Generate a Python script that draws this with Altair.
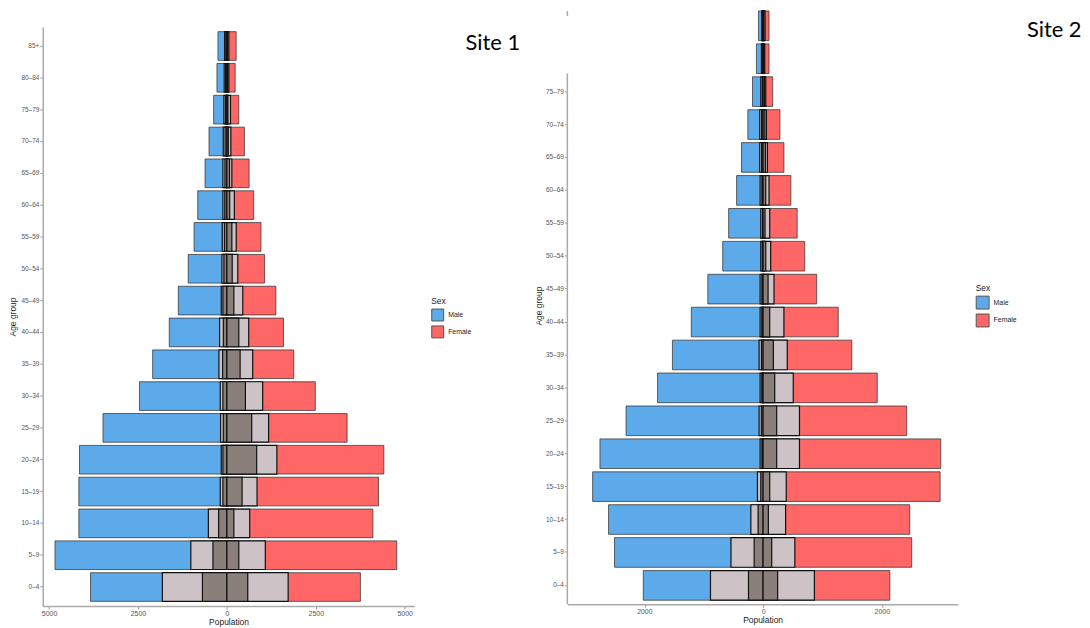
import altair as alt
import pandas as pd

ages = ["0–4", "5–9", "10–14", "15–19", "20–24", "25–29", "30–34", "35–39", "40–44",
        "45–49", "50–54", "55–59", "60–64", "65–69", "70–74", "75–79", "80–84", "85+"]

# Site 1
s1_male_total = [3835, 4832, 4162, 4162, 4143, 3482, 2458, 2086, 1620, 1366, 1087, 922, 819, 614, 502, 372, 279, 251]
s1_female_total = [3754, 4777, 4106, 4264, 4413, 3380, 2486, 1881, 1592, 1378, 1061, 959, 754, 624, 493, 335, 233, 261]
s1_male_light = [1813, 1014, 520, 186, 158, 177, 186, 223, 205, 158, 140, 130, 112, 112, 102, 84, 75, 65]
s1_male_dark = [687, 391, 232, 112, 112, 100, 112, 120, 100, 112, 84, 70, 60, 55, 50, 40, 35, 30]
s1_female_light = [1723, 1081, 642, 848, 1406, 1173, 1006, 726, 614, 447, 307, 262, 210, 140, 112, 102, 56, 56]
s1_female_dark = [587, 335, 196, 428, 838, 698, 521, 372, 335, 196, 150, 140, 80, 75, 40, 30, 25, 25]

# Site 2
s2_male_total = [2018, 2503, 2603, 2871, 2748, 2308, 1778, 1527, 1209, 931, 680, 580, 446, 363, 257, 178, 112, 78]
s2_female_total = [2135, 2503, 2470, 2982, 2993, 2419, 1923, 1494, 1266, 903, 702, 574, 468, 351, 284, 162, 100, 100]
s2_male_light = [886, 541, 206, 95, 50, 67, 50, 67, 50, 50, 39, 39, 50, 56, 56, 39, 28, 22]
s2_male_dark = [246, 150, 84, 39, 20, 30, 22, 28, 22, 20, 15, 11, 20, 25, 25, 15, 12, 10]
s2_female_light = [864, 535, 379, 390, 613, 613, 508, 407, 351, 184, 128, 112, 100, 73, 56, 45, 28, 33]
s2_female_dark = [245, 145, 89, 112, 229, 229, 196, 173, 112, 84, 45, 33, 45, 40, 30, 25, 15, 15]

BLUE = "#5DAAEB"
RED = "#FF6666"
LIGHT = "#CDC3C6"
DARK = "#8B7F7C"
FONT = "Liberation Sans"


def build_df(mt, ft, ml, md, fl, fd):
    rows = []
    for i, a in enumerate(ages):
        rows.append(dict(age=a, sex="Male", layer="total", value=-mt[i]))
        rows.append(dict(age=a, sex="Female", layer="total", value=ft[i]))
        rows.append(dict(age=a, sex="Male", layer="light", value=-ml[i]))
        rows.append(dict(age=a, sex="Female", layer="light", value=fl[i]))
        rows.append(dict(age=a, sex="Male", layer="dark", value=-md[i]))
        rows.append(dict(age=a, sex="Female", layer="dark", value=fd[i]))
    return pd.DataFrame(rows)


def site_chart(df, width, height, xdomain, xticks, yrange, legend_xy, sym, hide, label, label_xy, title_pad, own_domain):
    hide_test = " || ".join([f"datum.value == '{h}'" for h in hide]) if hide else "false"
    y_axis = alt.Axis(
        title="Age group", titleFontSize=8.5, titleColor="#222", titlePadding=title_pad,
        labelFontSize=6.5, labelColor="#555", labelPadding=1,
        labelExpr=f"({hide_test}) ? '' : datum.value",
        tickSize=3, tickColor="#999",
        tickOpacity={"condition": {"test": hide_test, "value": 0}, "value": 1},
        domain=not own_domain, domainColor="#aaa", domainWidth=1.5,
    )
    y_enc = alt.Y("age:N", scale=alt.Scale(domain=ages[::-1], range=yrange,
                                           paddingInner=0.1, paddingOuter=0.15), axis=y_axis)
    x_enc = alt.X("value:Q", stack=None,
                  scale=alt.Scale(domain=xdomain, nice=False, zero=False),
                  axis=alt.Axis(title="Population", titleFontSize=8.5, titleColor="#222", titlePadding=1,
                                values=xticks, labelExpr="format(abs(datum.value), 'd')",
                                labelFontSize=7, labelColor="#555", labelPadding=0,
                                tickSize=3, tickColor="#999", grid=False,
                                domainColor="#aaa", domainWidth=1.5))
    base = alt.Chart(df)
    tot = base.transform_filter("datum.layer == 'total'").mark_bar(
        stroke="#333", strokeOpacity=0.75, strokeWidth=1
    ).encode(
        x=x_enc, y=y_enc,
        color=alt.Color("sex:N", scale=alt.Scale(domain=["Male", "Female"], range=[BLUE, RED]),
                        legend=alt.Legend(title="Sex", orient="none", legendX=legend_xy[0], legendY=legend_xy[1],
                                          symbolType="square", symbolSize=sym * sym,
                                          symbolStrokeColor="#555", symbolStrokeWidth=1,
                                          rowPadding=0, labelFontSize=7, labelColor="#222",
                                          titleFontSize=8.5, titleColor="#222", titleFontWeight="normal",
                                          labelOffset=4, titlePadding=3))
    )
    light = base.transform_filter("datum.layer == 'light'").mark_bar(
        color=LIGHT, stroke="#111", strokeWidth=1.2
    ).encode(x=x_enc, y=y_enc)
    dark = base.transform_filter("datum.layer == 'dark'").mark_bar(
        color=DARK, stroke="#111", strokeWidth=1.2
    ).encode(x=x_enc, y=y_enc)
    txt = alt.Chart(pd.DataFrame({"t": [label]})).mark_text(
        font="Lato", fontSize=22, color="black", align="center", baseline="middle"
    ).encode(text="t:N", x=alt.value(label_xy[0]), y=alt.value(label_xy[1]))
    layers = [tot, light, dark, txt]
    if own_domain:
        one = pd.DataFrame({"a": [0]})
        r1 = alt.Chart(one).mark_rule(color="#aaa", strokeWidth=1.5).encode(
            x=alt.value(0), y=alt.value(own_domain[0]), y2=alt.value(own_domain[1]))
        r2 = alt.Chart(one).mark_rule(color="#aaa", strokeWidth=1.5).encode(
            x=alt.value(0), y=alt.value(own_domain[2]), y2=alt.value(own_domain[3]))
        layers += [r1, r2]
    return alt.layer(*layers).properties(width=width, height=height)


df1 = build_df(s1_male_total, s1_female_total, s1_male_light, s1_male_dark, s1_female_light, s1_female_dark)
df2 = build_df(s2_male_total, s2_female_total, s2_male_light, s2_male_dark, s2_female_light, s2_female_dark)

c1 = site_chart(df1, 374, 599, [-5176, 5271], [-5000, -2500, 0, 2500, 5000], [16, 599],
                (391, 288), 12, [], "Site 1", (453, 32), 3, None)
c2 = site_chart(df2, 393, 597, [-3297, 3280], [-2000, 0, 2000], [-5, 598],
                (411, 275), 13, ["85+", "80–84"], "Site 2", (490, 19), 2, (0, 5, 63, 597))

chart = alt.hconcat(c1, c2, spacing=13).resolve_scale(
    x="independent", y="independent", color="independent"
).resolve_legend(color="independent").properties(
    padding={"left": 0, "top": 0, "right": 0, "bottom": 0}
).configure_view(strokeWidth=0).configure_axis(
    labelFont=FONT, titleFont=FONT, titleFontWeight="normal"
).configure_legend(labelFont=FONT, titleFont=FONT)

chart.save("out.html", embed_options={"renderer": "svg", "actions": False})
